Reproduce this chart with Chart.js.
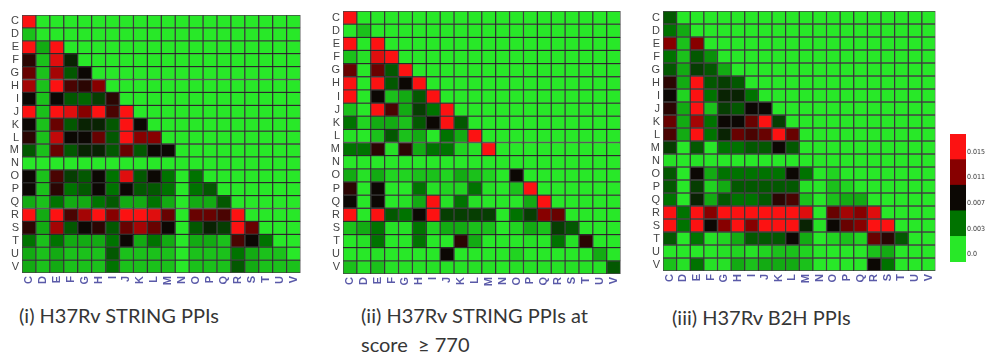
<!DOCTYPE html>
<html>
<head>
<meta charset="utf-8">
<script src="https://cdn.jsdelivr.net/npm/chart.js@4.4.1/dist/chart.umd.min.js"></script>
<style>
  body { margin: 0; background: #fff; width: 988px; height: 352px; overflow: hidden; position: relative; }
  canvas { position: absolute; }
  .cap { position: absolute; color: #363636; font-family: Lato, 'Open Sans', sans-serif; font-size: 20px; line-height: 20px; white-space: nowrap; }
</style>
</head>
<body>
<canvas id="map-all" width="310" height="300" style="left:0;top:0"></canvas>
<canvas id="map-high" width="310" height="300" style="left:320px;top:0"></canvas>
<canvas id="map-b2h" width="300" height="300" style="left:645px;top:0"></canvas>
<canvas id="colorbar" width="43" height="280" style="left:945px;top:0"></canvas>
<div class="cap" style="left:19px;top:305px">(i) H37Rv STRING PPIs</div>
<div class="cap" style="left:361px;top:305px">(ii) H37Rv STRING PPIs at</div>
<div class="cap" style="left:361px;top:334px">score&nbsp; ≥ 770</div>
<div class="cap" style="left:672px;top:307px">(iii) H37Rv B2H PPIs</div>
<script>
// functional categories, same order on both axes
const letters = ['C', 'D', 'E', 'F', 'G', 'H', 'I', 'J', 'K', 'L', 'M', 'N', 'O', 'P', 'Q', 'R', 'S', 'T', 'U', 'V'];

// lower triangle, one row per category, values in units of 0.001
const stringAll = [
  [15],
  [1.5, 0],
  [15, 2, 15],
  [8, 1.5, 14, 6],
  [10, 1.5, 12, 4, 7],
  [12, 1.5, 15, 9, 8, 11],
  [7, 1.5, 7, 4, 3.5, 5, 8],
  [15, 1.5, 15, 14, 11, 15, 9, 15],
  [7, 1.5, 10, 4, 6, 6, 4, 15, 7],
  [8, 1.5, 13, 7, 7, 10, 4, 15, 11, 11],
  [4, 1.5, 10, 4, 6, 6, 4, 10, 4, 7, 7],
  [0, 0, 0, 0, 0, 0, 0, 0, 0, 0, 0, 0],
  [7, 1.5, 9, 5, 4, 7, 3, 14, 4, 7, 3, 0, 3],
  [7, 1.5, 8, 3, 4, 7, 3, 7, 4, 4, 3, 0, 3, 4],
  [2, 1.5, 3, 2, 2, 3, 4, 2, 2, 3, 2, 0, 2, 2, 4],
  [15, 2, 15, 9, 12, 15, 11, 15, 15, 14, 10, 0, 10, 10, 9, 15],
  [8, 2, 12, 4, 7, 8, 4, 10, 12, 10, 7, 0, 4, 6, 5, 15, 10],
  [3, 1.5, 3, 2, 2, 2, 3, 7, 2, 3, 2, 0, 2, 2, 1.5, 9, 7, 3],
  [2, 1.5, 2, 1.5, 1.5, 1.5, 4, 1.5, 1.5, 1.5, 1.5, 0, 1.5, 1.5, 1.5, 3, 2, 1.5, 1.5],
  [2, 1.5, 2, 1.5, 1.5, 1.5, 3, 1.5, 1.5, 1.5, 1.5, 0, 1.5, 1.5, 1.5, 4, 2, 1.5, 1.5, 1.5],
];

const stringHigh = [
  [15],
  [0, 1.5],
  [15, 0, 15],
  [1.5, 0.5, 14, 15],
  [10, 0, 10, 4, 15],
  [15, 0, 15, 4, 7, 15],
  [15, 0, 7, 1.5, 2, 4, 15],
  [1.5, 0, 15, 9, 2, 5, 3, 15],
  [3, 1, 2, 2, 1.5, 4, 7, 15, 4],
  [0.5, 0, 1.5, 4, 1.5, 2, 0, 3, 2, 15],
  [3, 3, 8, 0.5, 8, 2, 3, 3, 1, 0.5, 15],
  [0, 0, 0, 0, 0, 0, 0, 0, 0, 0, 0, 0],
  [2, 0.5, 2, 1, 1, 1.5, 1.5, 1, 2, 1.5, 1, 0, 7],
  [8, 0, 7, 0, 0, 3, 0.5, 1, 1, 3, 0.5, 0, 1.5, 15],
  [7, 0, 7, 0, 0.5, 2, 15, 0.5, 3, 0.5, 0, 0, 0, 2, 15],
  [15, 0, 15, 4, 3, 7, 15, 5, 5, 5, 5, 0, 3, 5, 11, 10],
  [1.5, 2, 3, 0.5, 0.5, 3, 1, 2, 2, 1.5, 1.5, 0, 1, 2, 1.5, 5, 4],
  [0, 0.5, 3, 0, 0, 3, 0, 0, 8, 2, 0, 0, 0, 0.5, 0, 3, 0.5, 8],
  [0, 0, 0.5, 0, 0, 0, 0, 7, 0, 0, 0, 0, 1, 0, 0, 0, 0, 0, 2],
  [1.5, 0.5, 1.5, 0.5, 0.5, 0.5, 0.5, 0.5, 0.5, 0.5, 0.5, 0, 0.5, 0.5, 0.5, 0.5, 0.5, 0.5, 0.5, 4],
];

const b2h = [
  [4],
  [3, 2],
  [11, 1.5, 11],
  [3, 1.5, 4, 2.5],
  [4, 2, 5, 4, 2],
  [8, 2, 15, 4, 5, 4],
  [7, 1, 15, 3, 6, 6, 3],
  [8, 2, 15, 1.5, 5, 4, 7, 7],
  [10, 2, 12, 3, 7, 7, 10, 15, 5],
  [9, 2, 15, 3, 6, 10, 9, 10, 15, 10],
  [5, 0, 4, 0, 3, 3, 4, 4, 7, 4, 0],
  [0.5, 0, 0.5, 0, 0, 0, 0, 0, 0, 0, 0, 0],
  [4, 0, 7, 2, 3, 3, 3, 3, 3, 7, 3, 0, 1],
  [4, 0, 5, 1, 2, 4, 4, 4, 4, 4, 0.5, 0, 1.5, 1],
  [3, 0, 6, 2, 4, 3, 3, 4, 8, 9, 1.5, 0, 1.5, 2, 2],
  [15, 3, 15, 11, 15, 15, 15, 15, 15, 15, 14, 0, 10, 12, 11, 14],
  [15, 3, 15, 7, 11, 15, 11, 15, 15, 15, 6, 0.5, 7, 10, 11, 15, 15],
  [4, 0, 3, 0.5, 1, 2, 4, 4, 4, 7, 2, 0, 1, 1.5, 1, 10, 8, 4],
  [0, 0, 0, 0, 0.5, 1, 0.5, 1, 1.5, 1.5, 1, 0, 0, 0, 0, 1.5, 2, 0, 0],
  [1.5, 0.5, 3, 0.5, 0.5, 2, 1.5, 2, 2, 2, 1.5, 0, 0, 0, 0, 7, 3, 0, 0, 0],
];

// colour bar
const scaleTicks = ['0.0', '0.003', '0.007', '0.011', '0.015'];
const scaleStops = [0, 3, 7, 11, 15];

const stopColors = [[40, 232, 40], [0, 115, 0], [12, 8, 4], [135, 0, 0], [252, 18, 18]];

function cellColor(v) {
  if (v <= scaleStops[0]) return rgb(stopColors[0]);
  for (let k = 1; k < scaleStops.length; k++) {
    if (v <= scaleStops[k]) {
      let t = (v - scaleStops[k - 1]) / (scaleStops[k] - scaleStops[k - 1]);
      if (k === 1) t = Math.pow(t, 1.6); // low values stay close to the light green
      const a = stopColors[k - 1];
      const b = stopColors[k];
      return rgb(a.map((c, i) => Math.round(c + (b[i] - c) * t)));
    }
  }
  return rgb(stopColors[stopColors.length - 1]);
}

function rgb(c) {
  return `rgb(${c[0]},${c[1]},${c[2]})`;
}

function drawHeatmap(id, rows, box) {
  const n = letters.length;
  const datasets = letters.map((_, j) => ({
    data: letters.map(() => [n - 1 - j, n - j]),
    backgroundColor: letters.map((_, i) => cellColor(rows[j][i] || 0)),
    borderColor: 'rgba(0,0,0,0.72)',
    borderWidth: 1,
    borderSkipped: false,
    grouped: false,
    barPercentage: 1,
    categoryPercentage: 1,
  }));

  new Chart(document.getElementById(id), {
    type: 'bar',
    data: { labels: letters, datasets },
    options: {
      responsive: false,
      animation: false,
      events: [],
      layout: { padding: { top: box.top, right: box.right, left: 0, bottom: 0 } },
      plugins: { legend: { display: false }, tooltip: { enabled: false } },
      scales: {
        x: {
          grid: { display: false, drawTicks: false },
          border: { display: false },
          ticks: {
            autoSkip: false,
            minRotation: 90,
            maxRotation: 90,
            padding: 3,
            color: '#5a5aa8',
            font: { family: 'Liberation Sans', size: 11, weight: 'bold' },
          },
          afterFit: (axis) => { axis.height = box.bottom; },
        },
        y: {
          min: 0,
          max: n,
          grid: { display: false, drawTicks: false },
          border: { display: false },
          afterBuildTicks: (axis) => {
            axis.ticks = letters.map((_, j) => ({ value: n - 1 - j + 0.5 }));
          },
          ticks: {
            autoSkip: false,
            padding: 3,
            color: '#444',
            font: { family: 'Liberation Sans', size: 11 },
            callback: (value, index) => letters[index],
          },
          afterFit: (axis) => { axis.width = box.left; },
        },
      },
    },
  });
}

function drawColorbar() {
  const datasets = scaleStops.map((_, k) => ({
    data: [[k, k + 1]],
    backgroundColor: rgb(stopColors[k]),
    borderWidth: 0,
    grouped: false,
    barPercentage: 1,
    categoryPercentage: 1,
  }));

  new Chart(document.getElementById('colorbar'), {
    type: 'bar',
    data: { labels: [''], datasets },
    options: {
      responsive: false,
      animation: false,
      events: [],
      layout: { padding: { top: 134, left: 5, right: 0, bottom: 18 } },
      plugins: { legend: { display: false }, tooltip: { enabled: false } },
      scales: {
        x: { display: false },
        y: {
          position: 'right',
          min: 0,
          max: scaleStops.length,
          grid: { display: false, drawTicks: false },
          border: { display: false },
          afterBuildTicks: (axis) => {
            axis.ticks = scaleStops.map((_, k) => ({ value: k + 0.3 }));
          },
          ticks: {
            padding: 1,
            color: '#333',
            font: { family: "'DejaVu Sans Condensed', 'Liberation Sans Narrow', 'Liberation Sans'", size: 7 },
            callback: (value, index) => scaleTicks[index],
          },
          afterFit: (axis) => { axis.width = 22; },
        },
      },
    },
  });
}

drawHeatmap('map-all', stringAll, { left: 22, right: 8, top: 15, bottom: 27 });
drawHeatmap('map-high', stringHigh, { left: 23, right: 5, top: 11, bottom: 26 });
drawHeatmap('map-b2h', b2h, { left: 18, right: 4, top: 11, bottom: 29 });
drawColorbar();
</script>
</body>
</html>
